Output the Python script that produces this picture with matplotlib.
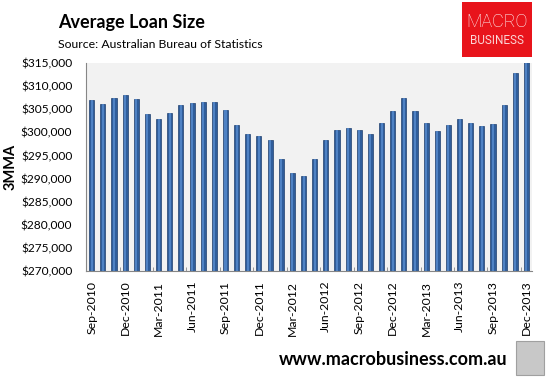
import numpy as np
import matplotlib
matplotlib.use("Agg")
import matplotlib.pyplot as plt
from matplotlib.patches import Rectangle

plt.rcParams['font.family'] = ['Lato', 'DejaVu Sans']

# monthly 3MMA average loan size, Sep-2010 .. Dec-2013
months = ['Sep', 'Oct', 'Nov', 'Dec'] + ['Jan', 'Feb', 'Mar', 'Apr', 'May', 'Jun',
                                         'Jul', 'Aug', 'Sep', 'Oct', 'Nov', 'Dec'] * 3
years = [2010] * 4 + [2011] * 12 + [2012] * 12 + [2013] * 12
loan_size = [306950, 306200, 307400, 308000, 307200, 303900, 302800, 304300,
             305900, 306300, 306500, 306500, 304800, 301600, 299600, 299200,
             298300, 294300, 291200, 290600, 294300, 298400, 300600, 301000,
             300600, 299700, 302100, 304700, 307500, 304700, 302100, 300400,
             301700, 302800, 302100, 301300, 301900, 306000, 312800, 315300]
labels = [f"{m}-{y}" for m, y in zip(months, years)]
yticks = list(range(270000, 315001, 5000))

fig = plt.figure(figsize=(5.49, 3.80), dpi=100)
ax = fig.add_axes([0.157, 0.287, 0.812, 0.547])
ax.set_facecolor('#F2F2F2')

x = np.arange(len(loan_size))
ax.bar(x, loan_size, width=0.46, color='#2F5D9B', edgecolor='#1F3F6E', linewidth=0.5)
ax.bar(x, loan_size, width=0.18, color='#4F82C4', linewidth=0)

ax.set_xlim(-0.5, len(loan_size) - 0.5)
ax.set_ylim(270000, 315000)
ax.set_yticks(yticks)
ax.set_yticklabels([f"${v:,}" for v in yticks], fontsize=8.6)
ax.tick_params(axis='y', length=0, pad=10)

ax.set_xticks(x[::3])
ax.set_xticklabels(labels[::3], rotation=90, fontsize=8.8)
ax.set_xticks(x[::3] - 0.5, minor=True)
ax.tick_params(axis='x', which='major', length=0, pad=7)
ax.tick_params(axis='x', which='minor', length=3, direction='in', color='#868686')

for s in ['top', 'right']:
    ax.spines[s].set_visible(False)
for s in ['left', 'bottom']:
    ax.spines[s].set_color('#868686')

ax.set_ylabel('3MMA', fontsize=10.5, fontweight='bold')
ax.yaxis.set_label_coords(-0.153, 0.5)

fig.text(0.106, 0.942, 'Average Loan Size', fontsize=13, fontweight='bold', va='center')
fig.text(0.106, 0.882, 'Source: Australian Bureau of Statistics', fontsize=8.8, va='center')
fig.text(0.924, 0.055, 'www.macrobusiness.com.au', fontsize=13, fontweight='bold',
         va='center', ha='right')

# logo box
logo = fig.add_axes([462 / 549, 1 - 57 / 380, 70 / 549, 55 / 380])
logo.set_facecolor('#E8141B')
logo.set_xticks([])
logo.set_yticks([])
for s in logo.spines.values():
    s.set_visible(False)
logo.text(0.5, 0.64, 'MACRO', color='white', fontsize=13, ha='center', va='center',
          family='Roboto', fontweight='light')
logo.text(0.5, 0.3, 'BUSINESS', color='#FBD5D5', fontsize=8.5, ha='center', va='center',
          family='Roboto')

# wolf picture placeholder
fig.patches.append(Rectangle((516 / 549, 5 / 380), 28 / 549, 34 / 380, transform=fig.transFigure,
                             facecolor='#C8C8C8', edgecolor='#A0A0A0', linewidth=0.8))

fig.savefig('out.png', dpi=100)
